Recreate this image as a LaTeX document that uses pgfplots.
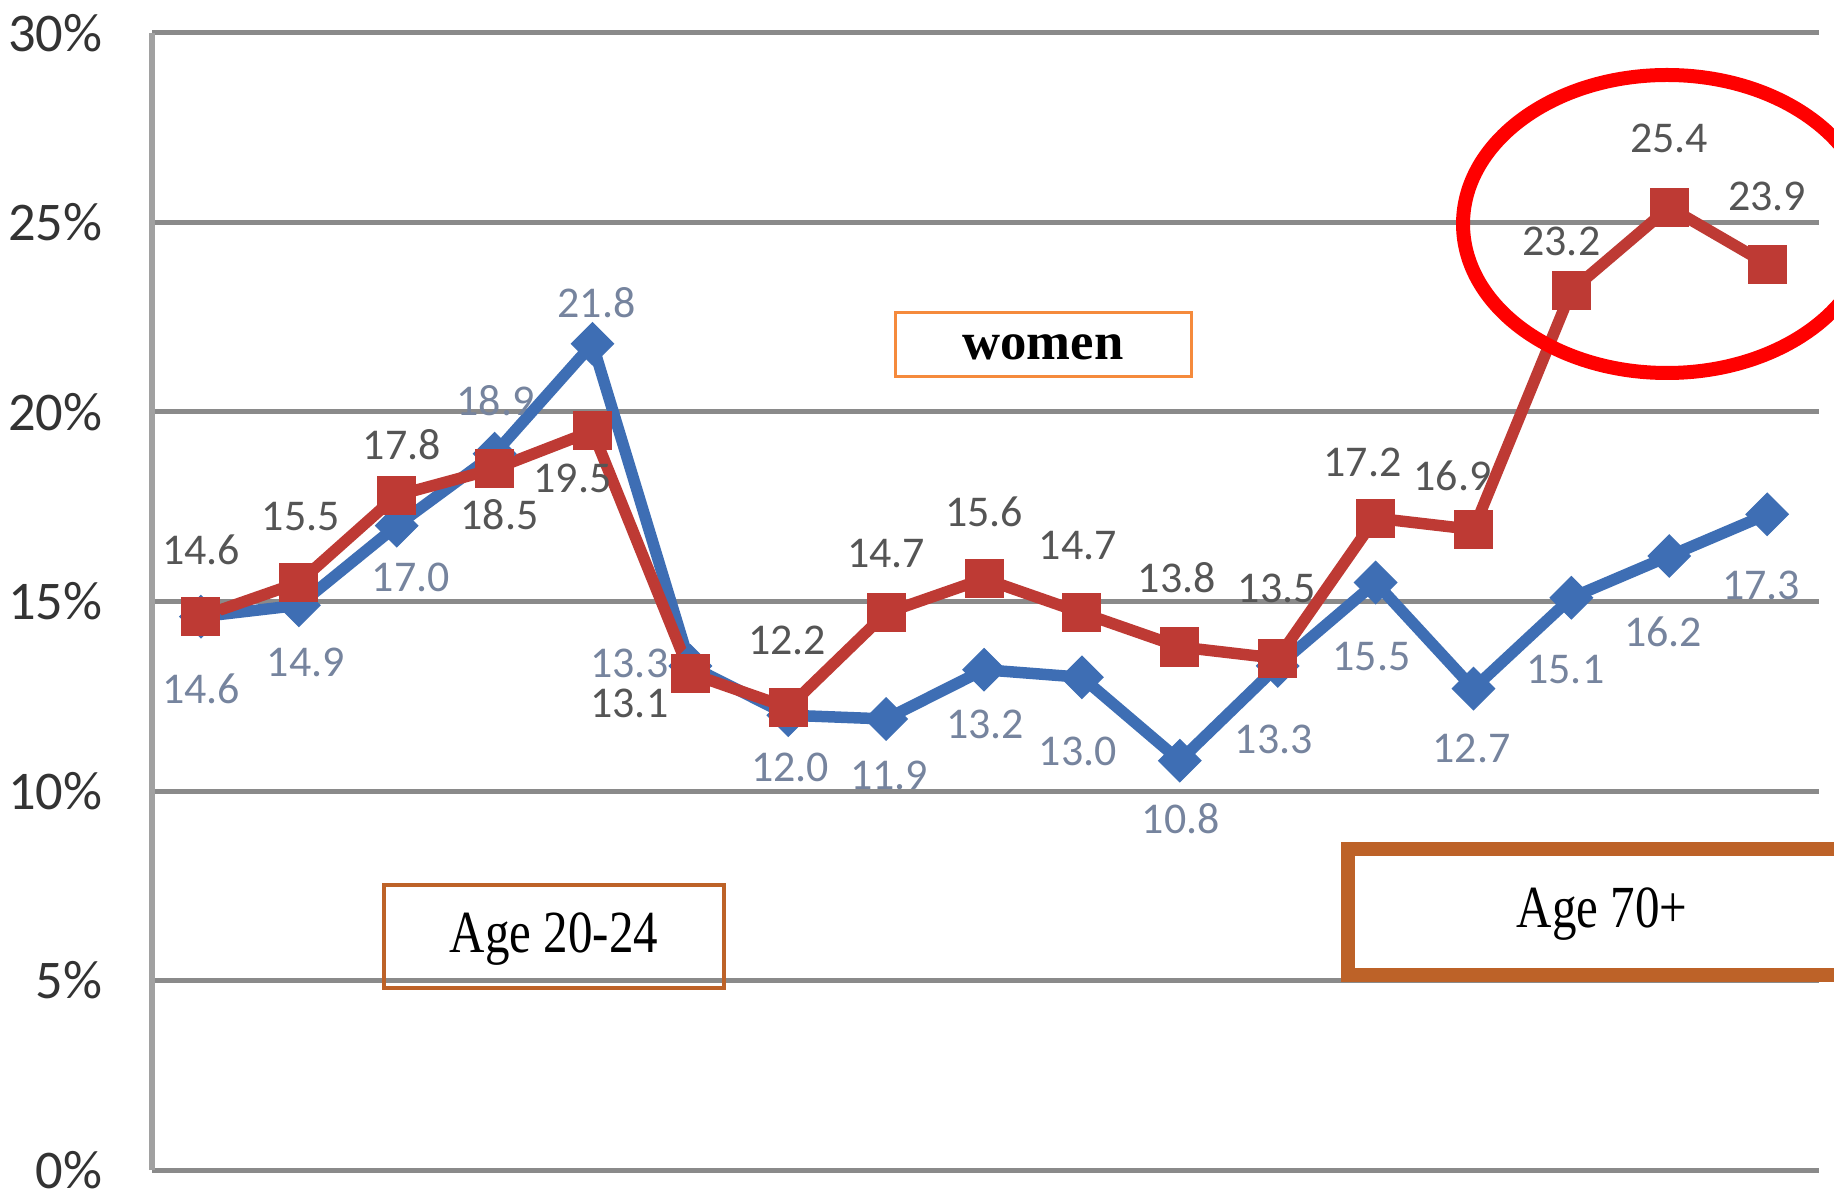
\documentclass[border=0pt]{standalone}
\usepackage{pgfplots}
\pgfplotsset{compat=1.18}
\usepackage{pgfplotstable}
\usepackage{fontspec}
\setmainfont{Carlito}
\newfontfamily\seriffont{Liberation Serif}
\definecolor{bl}{RGB}{62,110,180}
\definecolor{rd}{RGB}{190,58,52}
\definecolor{bllab}{RGB}{118,132,158}
\definecolor{rdlab}{RGB}{85,85,85}
\definecolor{gridc}{RGB}{138,138,138}
\definecolor{boxor}{RGB}{245,138,60}
\definecolor{boxbr}{RGB}{189,98,40}
\pgfplotstableread{
x b bdx bdy r rdx rdy
0 14.6 0 -72 14.6 0 67
1 14.9 7 -57 15.5 2 66
2 17.0 14 -52 17.8 5 51
3 18.9 1 53 18.5 5 -46
4 21.8 4 41 19.5 -20 -47
5 13.3 -61 3 13.1 -61 -30
6 12.0 2 -52 12.2 -1 67
7 11.9 3 -56 14.7 0 59
8 13.2 1 -55 15.6 0 67
9 13.0 -4 -74 14.7 -4 67
10 10.8 1 -58 13.8 -3 69
11 13.3 -4 -73 13.5 -1 70
12 15.5 -4 -74 17.2 -13 56
13 12.7 -2 -60 16.9 -21 54
14 15.1 -6 -72 23.2 -10 49
15 16.2 -6 -76 25.4 0 69
16 17.3 -6 -71 23.9 0 68
}\data
\begin{document}
\begin{tikzpicture}
\useasboundingbox (0,0) rectangle (18.34cm,11.92cm);
\clip (0,0) rectangle (18.34cm,11.92cm);
\fill[white] (0,0) rectangle (18.34cm,11.92cm);
\begin{axis}[
  at={(1.52cm,0.22cm)}, anchor=south west, scale only axis,
  width=16.67cm, height=11.37cm,
  xmin=-0.5, xmax=16.53, ymin=0, ymax=30,
  axis x line=none, axis y line=left,
  axis line style={-, draw=gridc!80, line width=0.6mm},
  xtick=\empty, ytick={0,5,...,30},
  major tick length=0pt,
  ymajorgrids=true,
  grid style={draw=gridc, line width=0.5mm},
  /pgf/number format/assume math mode=true,
  yticklabel={\pgfmathprintnumber{\tick}\%},
  yticklabel style={font=\fontsize{15.5pt}{16pt}\selectfont, text=black!80, inner sep=0pt, xshift=-4.9mm},
  clip=false,
  nodes near coords={\pgfmathprintnumber[fixed,fixed zerofill,precision=1]{\pgfplotspointmeta}},
  every node near coord/.append style={anchor=center, inner sep=0pt, font=\fontsize{12.5pt}{13pt}\selectfont, xshift=\dx*0.1mm, yshift=\dy*0.1mm},
]
\addplot[color=bl, line width=1.15mm, mark=square*, mark size=1.5mm,
  mark options={rotate=45, solid, line width=0.3pt},
  visualization depends on={\thisrow{bdx}\as\dx},
  visualization depends on={\thisrow{bdy}\as\dy},
  every node near coord/.append style={text=bllab}]
  table[x=x, y=b] {\data};
\addplot[color=rd, line width=1.15mm, mark=square*, mark size=1.9mm,
  mark options={solid, line width=0.3pt},
  visualization depends on={\thisrow{rdx}\as\dx},
  visualization depends on={\thisrow{rdy}\as\dy},
  every node near coord/.append style={text=rdlab}]
  table[x=x, y=r] {\data};
\end{axis}
% annotations
\draw[boxor, line width=0.3mm, fill=white] (8.95cm,8.15cm) rectangle (11.91cm,8.79cm);
\node[font=\seriffont\bfseries\fontsize{15pt}{16pt}\selectfont] at (10.43cm,8.45cm) {women};
\draw[boxbr, line width=0.35mm] (3.84cm,2.04cm) rectangle (7.24cm,3.07cm);
\node[font=\seriffont\fontsize{17pt}{18pt}\selectfont, xscale=0.82] at (5.54cm,2.53cm) {Age 20-24};
\draw[boxbr, line width=1.45mm, fill=white] (13.48cm,2.17cm) rectangle (19.2cm,3.43cm);
\node[font=\seriffont\fontsize{17pt}{18pt}\selectfont, xscale=0.82] at (16.02cm,2.78cm) {Age 70+};
\draw[red, line width=1.4mm] (16.67cm,9.68cm) ellipse [x radius=2.04cm, y radius=1.49cm];
\end{tikzpicture}
\end{document}
